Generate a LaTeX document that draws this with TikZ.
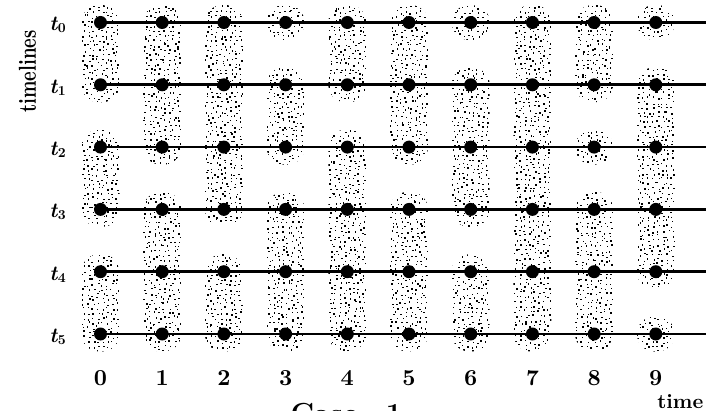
\documentclass[tikz,border=0pt]{standalone}
\usepackage{fontspec}
\usetikzlibrary{backgrounds}
\tikzset{
  dotnode/.style={circle, fill=black, inner sep=0pt, minimum size=13pt},
  tline/.style={line width=2.6pt},
  numlab/.style={inner sep=0pt},
  tlab/.style={anchor=base, inner sep=0pt},
  axlab/.style={inner sep=0pt},
}
\newcommand\tsub[1]{\resizebox{!}{13.5pt}{\bfseries\itshape t}\kern0.5pt\raisebox{-2pt}{\resizebox{!}{9pt}{\bfseries #1}}}
\newcommand\numtxt[1]{\resizebox{!}{15pt}{\bfseries #1}}
\newcommand\stipblob[3]{%
  \pgfmathsetmacro\sbx{100.5+61.7*#1}%
  \pgfmathsetmacro\sbt{22.5+62.3*#2-17.5}%
  \pgfmathsetmacro\sbb{22.5+62.3*#3+17.5}%
  \pgfmathtruncatemacro\sbn{(\sbb-\sbt)/4.75}%
  \begin{scope}
    \clip[rounded corners=17.5pt] ({\sbx-19},{\sbt}) rectangle ({\sbx+19},{\sbb});
    \foreach \ii in {0,...,\sbn}{\foreach \jj in {0,...,7}{%
      \fill ({\sbx-19+4.75*\jj+1.7+1.8*rand},{\sbt+4.75*\ii+1.7+1.8*rand}) rectangle +(1.45,1.45);}}
  \end{scope}}
\begin{document}
\begin{tikzpicture}[x=1pt,y=-1pt]
\useasboundingbox (0,0) rectangle (706,411);
\pgfmathsetseed{7}
% dots
\foreach \i in {0,...,5}{
  \foreach \j in {0,...,9}{
    \node[dotnode] (d-\j-\i) at ({100.5+61.7*\j},{22.5+62.3*\i}) {};
  }
  \coordinate (e\i) at (706,{22.5+62.3*\i});
}
\begin{pgfonlayer}{background}
\stipblob{0}{0}{1}\stipblob{0}{2}{3}\stipblob{0}{4}{5}
\stipblob{1}{0}{2}\stipblob{1}{3}{5}
\stipblob{2}{0}{3}\stipblob{2}{4}{5}
\stipblob{3}{0}{0}\stipblob{3}{1}{2}\stipblob{3}{3}{5}
\stipblob{4}{0}{1}\stipblob{4}{2}{5}
\stipblob{5}{0}{2}\stipblob{5}{3}{5}
\stipblob{6}{0}{0}\stipblob{6}{1}{3}\stipblob{6}{4}{5}
\stipblob{7}{0}{5}
\stipblob{8}{0}{1}\stipblob{8}{2}{2}\stipblob{8}{3}{5}
\stipblob{9}{0}{0}\stipblob{9}{1}{4}\stipblob{9}{5}{5}
\foreach \i in {0,...,5}{
  \draw[tline] (d-0-\i.center) -- (e\i);
}
\end{pgfonlayer}
% labels
\foreach \i in {0,...,5}{
  \node[tlab] (tl\i) at (57.5,{31+62.3*\i}) {\tsub{\i}};
}
\foreach \j in {0,...,9}{
  \node[numlab] (n\j) at ({100.5+61.7*\j},378) {\numtxt{\j}};
}
\node[axlab, rotate=90] (yl) at (27.5,71.5) {\resizebox{82pt}{17pt}{\bfseries timelines}};
\node[axlab, anchor=base east] (xl) at (703.5,408) {\resizebox{!}{14pt}{\bfseries time}};
\node[anchor=base west, inner sep=0pt, font=\fontsize{29}{35}\selectfont\bfseries] (cap) at (290.5,423.5) {Case\hspace{28pt}1};
\end{tikzpicture}
\end{document}
